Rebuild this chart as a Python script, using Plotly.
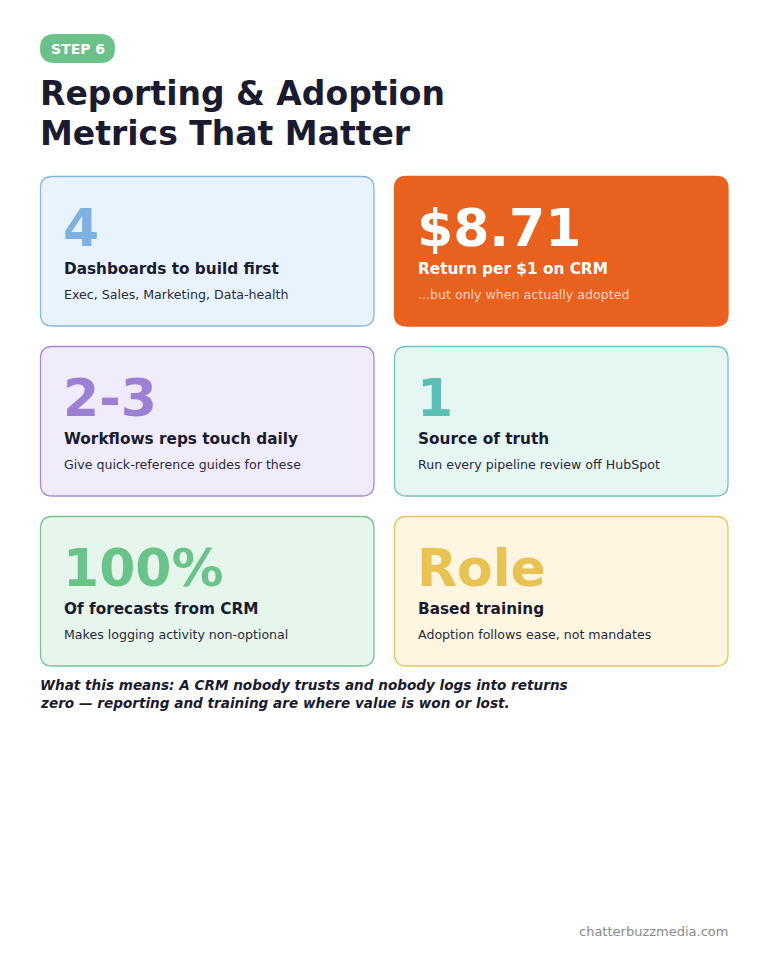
import plotly.graph_objects as go

values = ["4", "$8.71", "2-3", "1", "100%", "Role"]
titles = ["Dashboards to build first", "Return per $1 on CRM", "Workflows reps touch daily",
          "Source of truth", "Of forecasts from CRM", "Based training"]
subtitles = ["Exec, Sales, Marketing, Data-health", "...but only when actually adopted",
             "Give quick-reference guides for these", "Run every pipeline review off HubSpot",
             "Makes logging activity non-optional", "Adoption follows ease, not mandates"]
bg_colors = ["#E8F3FD", "#E8611E", "#F1ECFB", "#E5F6F3", "#E6F6EC", "#FEF6E0"]
border_colors = ["#86B6DE", "#E8611E", "#A68BD3", "#72C4BB", "#76C293", "#E6C55E"]
num_colors = ["#7FB2E0", "#FFFFFF", "#9C80D4", "#5BBFB5", "#6AC48A", "#E8C252"]
title_colors = ["#1B1B2F", "#FFFFFF", "#1B1B2F", "#1B1B2F", "#1B1B2F", "#1B1B2F"]
sub_colors = ["#2A2A3A", "#FAD2BE", "#2A2A3A", "#2A2A3A", "#2A2A3A", "#2A2A3A"]

FONT = "DejaVu Sans"
fig = go.Figure()
shapes, ann = [], []

def rrect(x0, y0, x1, y1, r):
    return (f"M{x0+r},{y0} L{x1-r},{y0} Q{x1},{y0} {x1},{y0+r} L{x1},{y1-r} Q{x1},{y1} {x1-r},{y1} "
            f"L{x0+r},{y1} Q{x0},{y1} {x0},{y1-r} L{x0},{y0+r} Q{x0},{y0} {x0+r},{y0} Z")

shapes.append(dict(type="path", path=rrect(40, 34, 115, 63, 14.5), fillcolor="#6AC28A", line_width=0))
ann.append(dict(x=77.5, y=49, text="<b>STEP 6</b>", showarrow=False, font=dict(size=14, color="white", family=FONT)))
for i, line in enumerate(["Reporting & Adoption", "Metrics That Matter"]):
    ann.append(dict(x=38, y=93 + 40 * i, text=f"<b>{line}</b>", showarrow=False, xanchor="left",
                    font=dict(size=33, color="#1B1B2F", family=FONT)))

for i in range(6):
    col, row = i % 2, i // 2
    x0 = 40 + col * 354
    y0 = 176 + row * 170
    shapes.append(dict(type="path", path=rrect(x0 + 0.5, y0 + 0.5, x0 + 334, y0 + 150, 12),
                       fillcolor=bg_colors[i], line=dict(color=border_colors[i], width=1.3)))
    ann.append(dict(x=x0 + 21, y=y0 + 52, text=f"<b>{values[i]}</b>", showarrow=False, xanchor="left",
                    font=dict(size=52, color=num_colors[i], family=FONT)))
    ann.append(dict(x=x0 + 22, y=y0 + 93, text=f"<b>{titles[i]}</b>", showarrow=False, xanchor="left",
                    font=dict(size=15.3, color=title_colors[i], family=FONT)))
    ann.append(dict(x=x0 + 22, y=y0 + 118, text=subtitles[i], showarrow=False, xanchor="left",
                    font=dict(size=12.6, color=sub_colors[i], family=FONT)))

for i, line in enumerate(["What this means: A CRM nobody trusts and nobody logs into returns",
                          "zero — reporting and training are where value is won or lost."]):
    ann.append(dict(x=38, y=685 + 18 * i, text=f"<b><i>{line}</i></b>", showarrow=False, xanchor="left",
                    font=dict(size=13.6, color="#1B1B2F", family=FONT)))
ann.append(dict(x=730, y=931, text="chatterbuzzmedia.com", showarrow=False, xanchor="right",
                font=dict(size=13, color="#8A8A8A", family=FONT)))

fig.update_layout(width=768, height=960, margin=dict(l=0, r=0, t=0, b=0),
                  paper_bgcolor="white", plot_bgcolor="white", shapes=shapes, annotations=ann,
                  xaxis=dict(range=[8, 776], visible=False, fixedrange=True),
                  yaxis=dict(range=[968, 8], visible=False, fixedrange=True), showlegend=False)
fig.write_html("out.html", config={"displayModeBar": False})
